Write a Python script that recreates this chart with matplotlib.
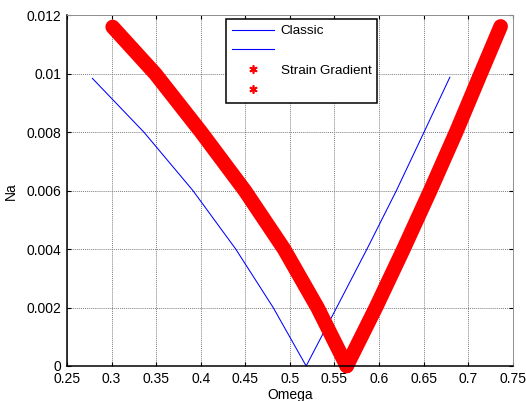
import matplotlib
matplotlib.use("Agg")
import matplotlib.pyplot as plt
from matplotlib.lines import Line2D
from matplotlib.ticker import FormatStrFormatter

# classic model, two branches
classic_left_w = [0.2785, 0.3363, 0.3913, 0.4393, 0.4813, 0.5183]
classic_left_na = [0.00984, 0.0080, 0.0060, 0.0040, 0.0020, 0.0]
classic_right_w = [0.5183, 0.5525, 0.5865, 0.6195, 0.6505, 0.6795]
classic_right_na = [0.0, 0.0020, 0.0040, 0.0060, 0.0080, 0.00988]

# strain gradient model, two branches
sg_left_w = [0.3012, 0.3490, 0.4005, 0.4495, 0.4935, 0.5310, 0.5638]
sg_left_na = [0.0116, 0.0100, 0.0080, 0.0060, 0.0040, 0.0020, 0.0]
sg_right_w = [0.5638, 0.5965, 0.6275, 0.6575, 0.6865, 0.7140, 0.7365]
sg_right_na = [0.0, 0.0020, 0.0040, 0.0060, 0.0080, 0.0100, 0.01162]

xticks = [0.25, 0.3, 0.35, 0.4, 0.45, 0.5, 0.55, 0.6, 0.65, 0.7, 0.75]
yticks = [0, 0.002, 0.004, 0.006, 0.008, 0.01, 0.012]

plt.rcParams['font.family'] = ['Liberation Sans', 'DejaVu Sans']

fig = plt.figure(figsize=(5.26, 4.01), dpi=100)
ax = fig.add_axes([0.1274, 0.0873, 0.8473, 0.8746])

ax.plot(classic_left_w, classic_left_na, color='#0000ff', lw=0.75)
ax.plot(classic_right_w, classic_right_na, color='#0000ff', lw=0.75)

ax.plot(sg_left_w, sg_left_na, color='#ff0000', lw=10.5, solid_capstyle='round',
        solid_joinstyle='round', clip_on=False)
ax.plot(sg_right_w, sg_right_na, color='#ff0000', lw=10.5, solid_capstyle='round',
        solid_joinstyle='round', clip_on=False)

ax.set_xlim(0.25, 0.75)
ax.set_ylim(0, 0.012)
ax.set_xticks(xticks)
ax.set_yticks(yticks)
ax.xaxis.set_major_formatter(FormatStrFormatter('%g'))
ax.yaxis.set_major_formatter(FormatStrFormatter('%g'))
ax.tick_params(direction='in', length=3, top=True, right=True, labelsize=10, pad=4,
               width=0.8)

ax.grid(True, color='#808080', linestyle=(0, (1, 1)), lw=0.7)
ax.set_axisbelow(True)
for s in ['left', 'bottom']:
    ax.spines[s].set_linewidth(1.1)
for s in ['top', 'right']:
    ax.spines[s].set_color('#909090')
    ax.spines[s].set_linestyle((0, (1, 1)))
    ax.spines[s].set_linewidth(0.7)

ax.set_xlabel('Omega', fontsize=10, labelpad=2)
ax.set_ylabel('Na', fontsize=10, labelpad=6)

star = (6, 2, 0)
handles = [
    Line2D([], [], color='#0000ff', lw=0.8),
    Line2D([], [], color='#0000ff', lw=0.8),
    Line2D([], [], color='#ff0000', ls='none', marker=star, markersize=6, mew=1.2),
    Line2D([], [], color='#ff0000', ls='none', marker=star, markersize=6, mew=1.2),
]
labels = ['Classic', '', 'Strain Gradient', '']
leg = ax.legend(handles, labels, loc='upper left', bbox_to_anchor=(0.357, 0.99),
                fontsize=9.7, frameon=True, fancybox=False, framealpha=1,
                edgecolor='black', handlelength=3.1, handletextpad=0.5,
                labelspacing=0.55, borderpad=0.45, borderaxespad=0)
leg.get_frame().set_linewidth(1.1)

fig.savefig('out.png', dpi=100)
